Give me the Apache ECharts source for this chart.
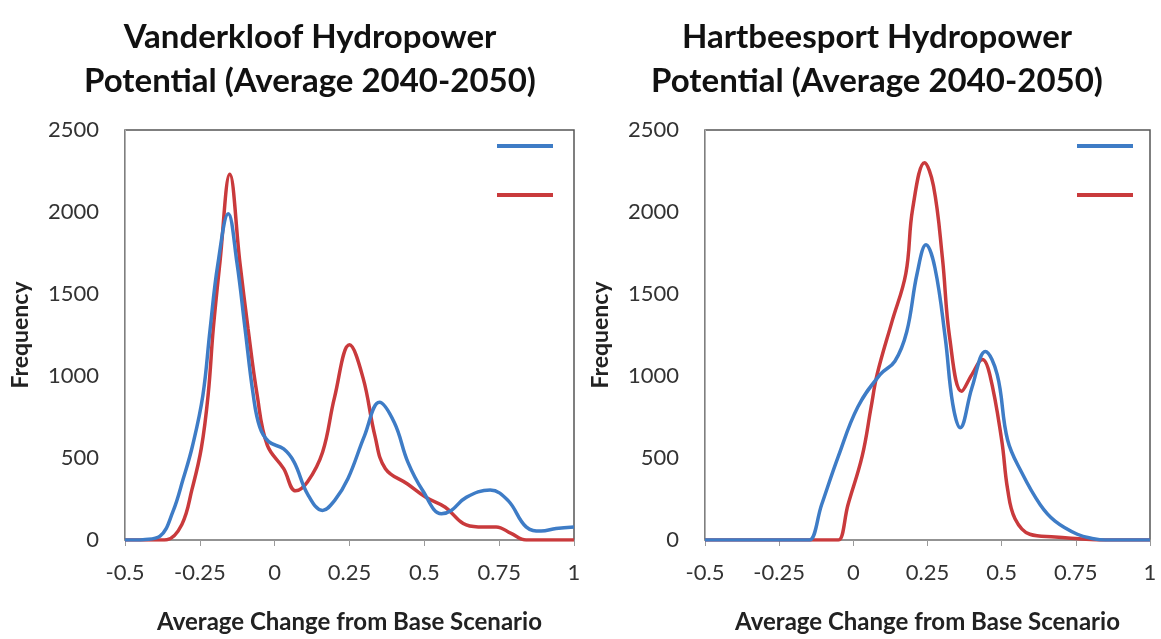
<!DOCTYPE html>
<html>
<head>
<meta charset="utf-8">
<script src="https://cdn.jsdelivr.net/npm/echarts@6/dist/echarts.min.js"></script>
<style>
  html, body { margin: 0; padding: 0; background: #fff; }
  #chart { width: 1161px; height: 639px; }
</style>
</head>
<body>
<div id="chart"></div>
<script>
// tick labels
const xTicks = [-0.5, -0.25, 0, 0.25, 0.5, 0.75, 1];
const yTicks = [0, 500, 1000, 1500, 2000, 2500];

// Vanderkloof - blue curve
const vkBlueX = [-0.5, -0.46, -0.44, -0.383, -0.34, -0.306, -0.275, -0.24, -0.216, -0.19, -0.155, -0.126, -0.099, -0.072, -0.05, -0.02, 0.03, 0.065, 0.11, 0.16, 0.2, 0.245, 0.3, 0.35, 0.4, 0.445, 0.495, 0.557, 0.59, 0.64, 0.72, 0.78, 0.84, 0.89, 0.94, 1.0];
const vkBlueY = [0, 0, 2, 24, 173, 370, 570, 880, 1280, 1680, 1990, 1690, 1290, 890, 690, 600, 555, 475, 280, 180, 240, 375, 635, 840, 715, 475, 300, 160, 180, 260, 305, 240, 80, 55, 70, 80];
// Vanderkloof - red curve
const vkRedX = [-0.5, -0.38, -0.36, -0.31, -0.276, -0.245, -0.222, -0.205, -0.183, -0.15, -0.116, -0.089, -0.059, -0.025, 0.03, 0.07, 0.11, 0.16, 0.2, 0.25, 0.295, 0.335, 0.37, 0.445, 0.505, 0.57, 0.63, 0.68, 0.74, 0.79, 0.84, 0.88, 1.0];
const vkRedY = [0, 0, 2, 95, 310, 560, 890, 1290, 1690, 2230, 1690, 1290, 890, 580, 435, 300, 355, 535, 870, 1190, 990, 635, 435, 340, 260, 200, 100, 80, 80, 40, 0, 0, 0];

// Hartbeesport - blue curve
const hbBlueX = [-0.5, -0.17, -0.148, -0.107, -0.05, 0.015, 0.09, 0.14, 0.18, 0.215, 0.245, 0.275, 0.31, 0.335, 0.36, 0.4, 0.445, 0.485, 0.52, 0.568, 0.63, 0.68, 0.755, 0.81, 0.85, 0.9, 1.0];
const hbBlueY = [0, 0, 0, 215, 513, 811, 1008, 1090, 1270, 1625, 1800, 1660, 1230, 830, 685, 930, 1150, 1008, 610, 410, 215, 115, 35, 8, 0, 0, 0];
// Hartbeesport - red curve
const hbRedX = [-0.5, -0.07, -0.05, -0.018, 0.03, 0.06, 0.08, 0.13, 0.177, 0.2, 0.24, 0.27, 0.3, 0.325, 0.365, 0.4, 0.435, 0.46, 0.5, 0.52, 0.545, 0.595, 0.68, 0.76, 0.83, 0.88, 1.0];
const hbRedY = [0, 0, 0, 215, 513, 811, 1008, 1330, 1625, 2020, 2300, 2160, 1725, 1230, 907, 1010, 1100, 1008, 610, 310, 130, 35, 18, 8, 0, 0, 0];

const titles = ['Vanderkloof Hydropower\nPotential (Average 2040-2050)', 'Hartbeesport Hydropower\nPotential (Average 2040-2050)'];
const seriesNames = ['Series A', 'Series B'];

const BLUE = '#3E7CC6';
const RED = '#C93A3C';
const FONT = 'Lato';

let zip = function(xs, ys) {
    return xs.map((x, i) => [x, ys[i]]);
};

let chart = echarts.init(document.getElementById('chart'));

let makeX = function(idx) {
    return {
        type: 'value',
        gridIndex: idx,
        min: xTicks[0],
        max: xTicks[xTicks.length - 1],
        interval: 0.25,
        name: 'Average Change from Base Scenario',
        nameLocation: 'middle',
        nameGap: 70,
        nameTextStyle: { fontFamily: FONT, fontWeight: 'bold', fontSize: 24, color: '#222' },
        axisLine: { show: true, onZero: false, lineStyle: { color: '#9a9a9a', width: 1.5 } },
        axisTick: { show: true, inside: false, length: 6, lineStyle: { color: '#9a9a9a' } },
        axisLabel: { fontFamily: FONT, fontSize: 22, color: '#333', margin: 22 },
        splitLine: { show: false }
    };
};

let makeY = function(idx) {
    return {
        type: 'value',
        gridIndex: idx,
        min: yTicks[0],
        max: yTicks[yTicks.length - 1],
        interval: 500,
        name: 'Frequency',
        nameLocation: 'middle',
        nameGap: 93,
        nameTextStyle: { fontFamily: FONT, fontWeight: 'bold', fontSize: 23, color: '#222' },
        axisLine: { show: true, onZero: false, lineStyle: { color: '#b0b0b0', width: 1 } },
        axisTick: { show: false },
        axisLabel: { fontFamily: FONT, fontSize: 22, color: '#333', margin: 26, formatter: (v) => String(v) },
        splitLine: { show: false }
    };
};

let makeLine = function(name, color, idx, data) {
    return {
        name: name,
        type: 'line',
        xAxisIndex: idx,
        yAxisIndex: idx,
        data: data,
        smooth: 0.4,
        showSymbol: false,
        lineStyle: { color: color, width: 3.5 },
        itemStyle: { color: color },
        z: name === seriesNames[1] ? 3 : 4
    };
};

let legendFor = function(left) {
    return {
        orient: 'vertical',
        left: left,
        top: 139,
        itemWidth: 56,
        itemHeight: 4,
        itemGap: 45,
        icon: 'rect',
        formatter: () => '',
        textStyle: { fontSize: 1 },
        selectedMode: false,
        data: seriesNames
    };
};

let option = {
    animation: false,
    backgroundColor: '#fff',
    title: [
        {
            text: titles[0], left: 305, top: 10, textAlign: 'center',
            textStyle: { fontFamily: FONT, fontWeight: 'bold', fontSize: 33, color: '#111', lineHeight: 44 }
        },
        {
            text: titles[1], left: 872, top: 10, textAlign: 'center',
            textStyle: { fontFamily: FONT, fontWeight: 'bold', fontSize: 33, color: '#111', lineHeight: 44 }
        }
    ],
    legend: [legendFor(492), legendFor(1072)],
    grid: [
        { left: 125, right: 587, top: 130, bottom: 90, show: true, borderColor: '#555', borderWidth: 1.5 },
        { left: 705, right: 11, top: 130, bottom: 90, show: true, borderColor: '#555', borderWidth: 1.5 }
    ],
    xAxis: [makeX(0), makeX(1)],
    yAxis: [makeY(0), makeY(1)],
    series: [
        makeLine(seriesNames[0], BLUE, 0, zip(vkBlueX, vkBlueY)),
        makeLine(seriesNames[1], RED, 0, zip(vkRedX, vkRedY)),
        makeLine(seriesNames[0], BLUE, 1, zip(hbBlueX, hbBlueY)),
        makeLine(seriesNames[1], RED, 1, zip(hbRedX, hbRedY))
    ]
};

chart.setOption(option);
</script>
</body>
</html>
